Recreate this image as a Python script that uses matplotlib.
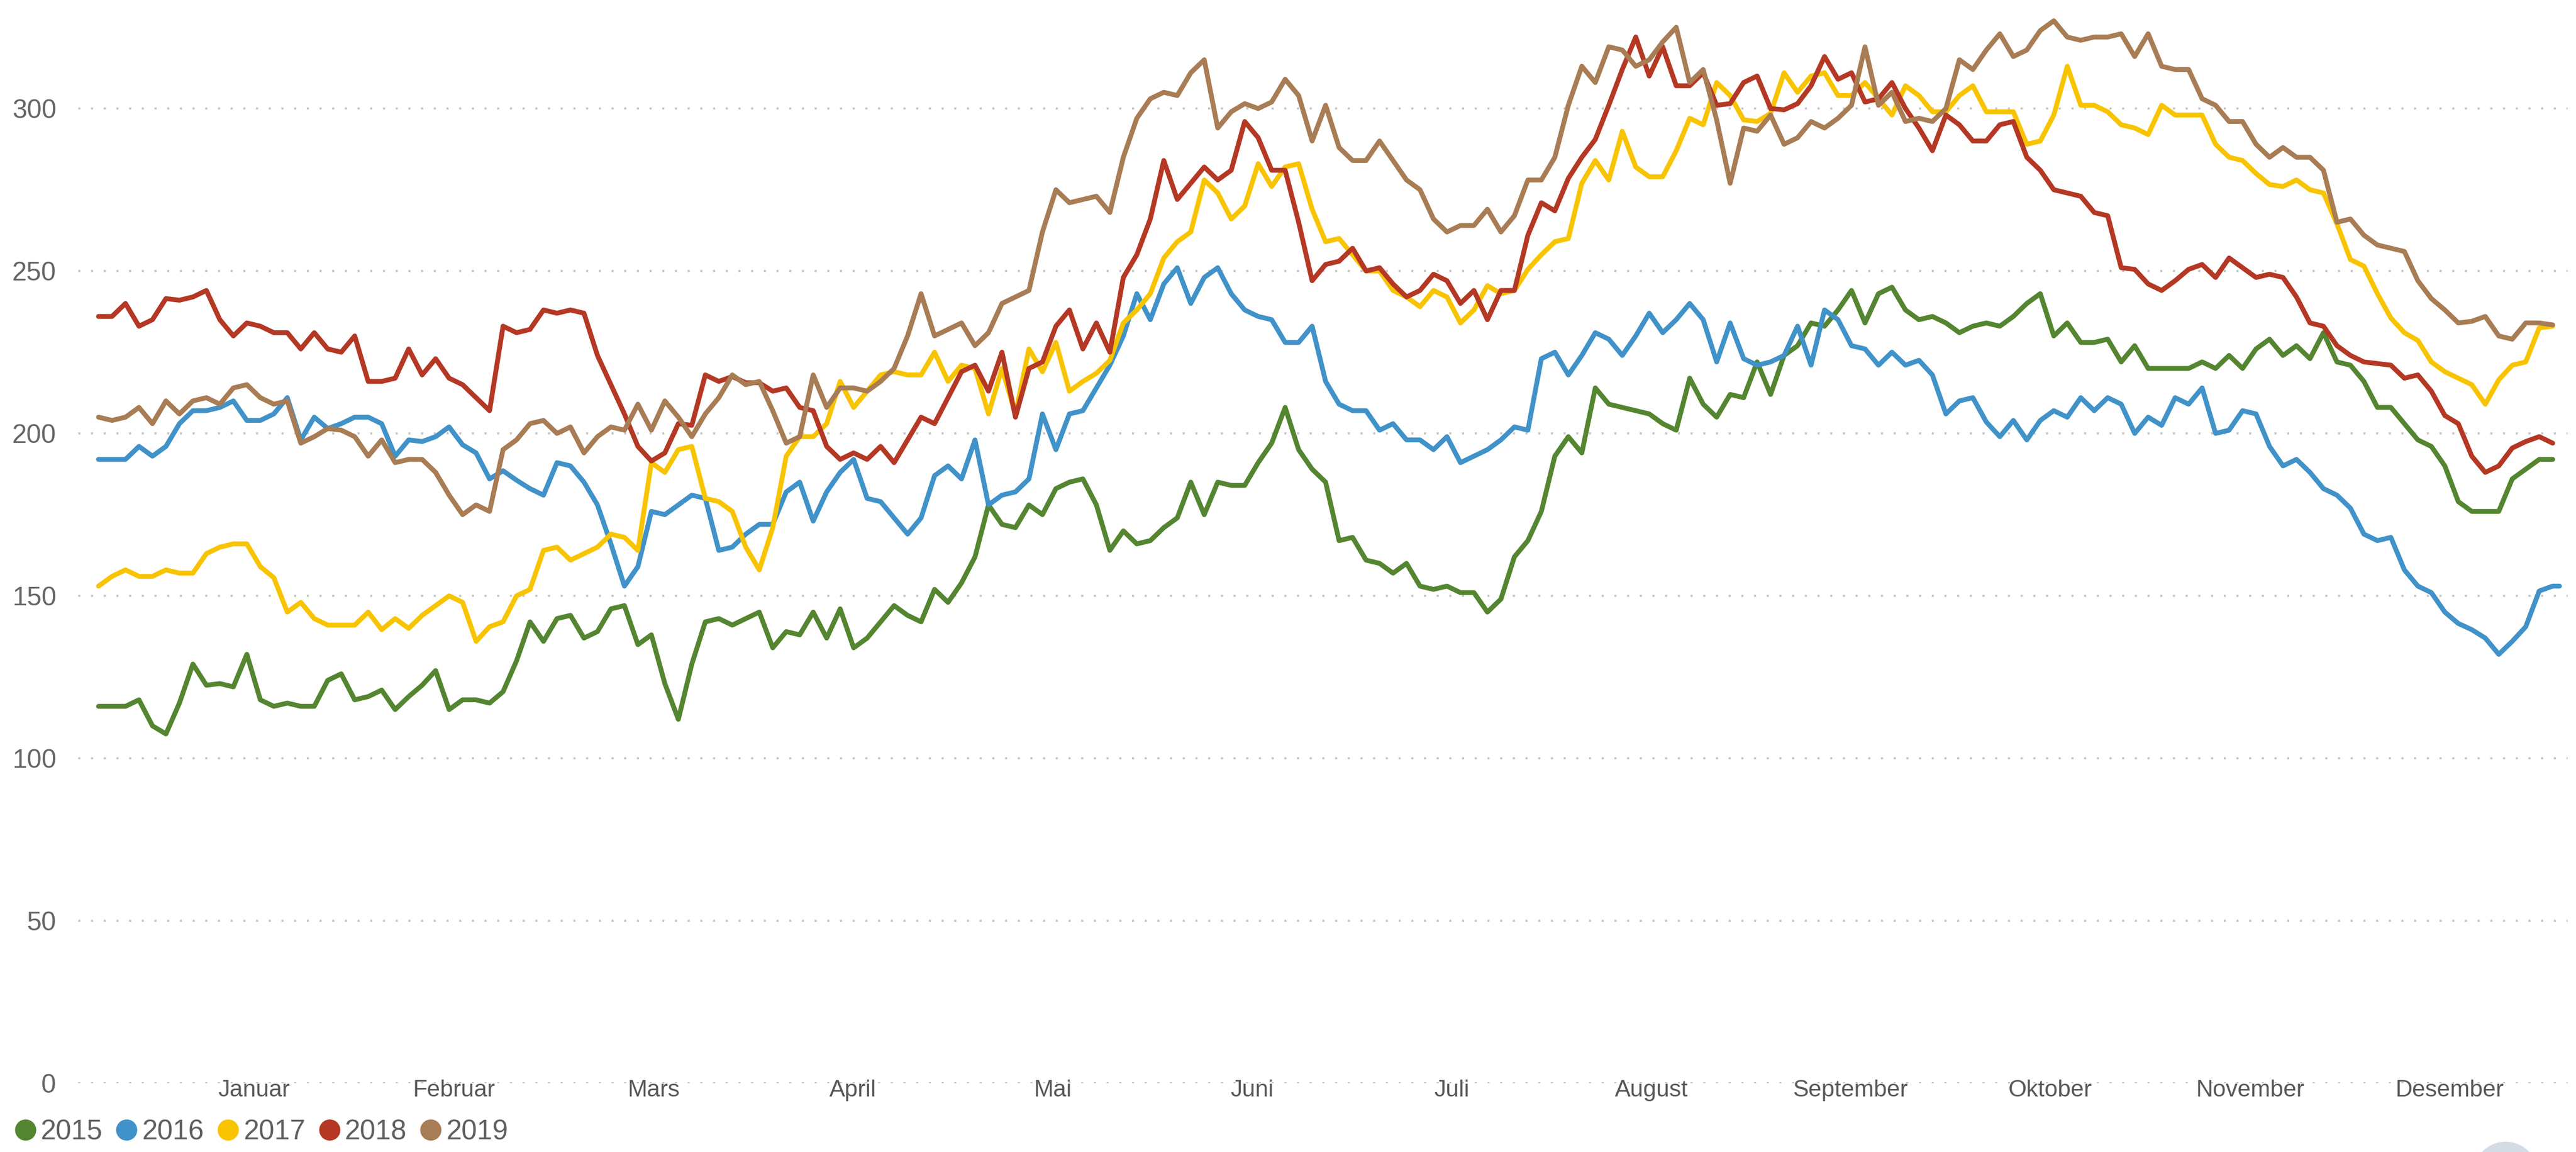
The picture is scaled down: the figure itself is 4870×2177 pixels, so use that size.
import numpy as np
import matplotlib
matplotlib.use('Agg')
import matplotlib.pyplot as plt
from matplotlib.lines import Line2D
from matplotlib.patches import Ellipse

plt.rcParams['font.family'] = ['Liberation Sans', 'DejaVu Sans']

# one value every second day of the year, from 1 January
vals_2015 = [116, 116, 116, 118, 110, 107.5, 117, 129, 122.5, 123, 122, 132, 118, 116, 117, 116, 116, 124, 126, 118,
             119, 121, 115, 119, 122.5, 127, 115, 118, 118, 117, 120.5, 130, 142, 136, 143, 144, 137, 139, 146, 147,
             135, 138, 123, 112, 129, 142, 143, 141, 143, 145, 134, 139, 138, 145, 137, 146, 134, 137, 142, 147,
             144, 142, 152, 148, 154, 162, 178, 172, 171, 178, 175, 183, 185, 186, 178, 164, 170, 166, 167, 171,
             174, 185, 175, 185, 184, 184, 191, 197, 208, 195, 189, 185, 167, 168, 161, 160, 157, 160, 153, 152,
             153, 151, 151, 145, 149, 162, 167, 176, 193, 199, 194, 214, 209, 208, 207, 206, 203, 201, 217, 209,
             205, 212, 211, 222, 212, 224, 227, 234, 233, 238, 244, 234, 243, 245, 238, 235, 236, 234, 231, 233,
             234, 233, 236, 240, 243, 230, 234, 228, 228, 229, 222, 227, 220, 220, 220, 220, 222, 220, 224, 220,
             226, 229, 224, 227, 223, 231, 222, 221, 216, 208, 208, 203, 198, 196, 190, 179, 176, 176, 176, 186,
             189, 192, 192]

vals_2016 = [192, 192, 192, 196, 193, 196, 203, 207, 207, 208, 210, 204, 204, 206, 211, 198, 205, 201.5, 203, 205,
             205, 203, 193, 198, 197.5, 199, 202, 196.5, 194, 186, 188.5, 185.6, 183, 181, 191, 190, 185, 178, 166, 153,
             159, 176, 175, 178, 181, 180, 164, 165, 169, 172, 172, 182, 185, 173, 182, 188, 192, 180, 179, 174,
             169, 174, 187, 190, 186, 198, 178, 181, 182, 186, 206, 195, 206, 207, 214, 221, 230, 243, 235, 246,
             251, 240, 248, 251, 243, 238, 236, 235, 228, 228, 233, 216, 209, 207, 207, 201, 203, 198, 198, 195,
             199, 191, 193, 195, 198, 202, 201, 223, 225, 218, 224, 231, 229, 224, 230, 237, 231, 235, 240, 235,
             222, 234, 223, 221, 222, 224, 233, 221, 238, 235, 227, 226, 221, 225, 221, 222.5, 218, 206, 210, 211,
             203.5, 199, 204, 198, 204, 207, 205, 211, 207, 211, 209, 200, 205, 202.5, 211, 209, 214, 200, 201, 207,
             206, 196, 190, 192, 188, 183, 181, 177, 169, 167, 168, 158, 153, 151, 145, 141.5, 139.6, 137, 132, 136,
             140.5, 151.5, 153, 153]

vals_2017 = [153, 156, 158, 156, 156, 158, 157, 157, 163, 165, 166, 166, 159, 155.6, 145, 148, 143, 141, 141, 141,
             145, 139.6, 143, 140, 144, 147, 150, 148, 136, 140.5, 142, 150, 152, 164, 165, 161, 163, 165, 169, 168,
             164, 191, 188, 195, 196, 180, 179, 176, 165, 158, 171, 193, 199, 199, 203, 216, 208, 213, 218, 219,
             218, 218, 225, 216, 221, 220, 206, 220, 206, 226, 219, 228, 213, 216, 218.5, 222.5, 234, 238, 243, 254,
             259, 262, 278, 274, 266, 270, 283, 276, 282, 283, 269, 259, 260, 255, 250, 250, 244, 242, 239, 244,
             242, 234, 238, 245.5, 243, 244, 250.5, 255, 259, 260, 277, 284, 278, 293, 282, 279, 279, 287, 297, 295,
             308, 304, 296.5, 296, 298.5, 311, 305, 310, 311, 304, 304, 308, 303, 298, 307, 304, 299, 299, 304, 307,
             299, 299, 299, 289, 290, 298, 313, 301, 301, 299, 295, 294, 292, 301, 298, 298, 298, 289, 285, 284,
             280, 276.6, 276, 278, 275, 274, 264.5, 253.5, 251.5, 243, 235.5, 231, 228.6, 222, 219, 217, 215, 209, 216.5, 221,
             222, 232.5, 233]

vals_2018 = [236, 236, 240, 233, 235, 241.5, 241, 242, 244, 235, 230, 234, 233, 231, 231, 226, 231, 226, 225, 230,
             216, 216, 217, 226, 218, 223, 217, 215, 211, 207, 233, 231, 232, 238, 237, 238, 237, 224, 215, 206,
             196, 191.5, 194, 203, 202.5, 218, 216, 217.5, 215.6, 215.6, 213, 214, 208, 207, 196, 192, 194, 192, 196, 191,
             198, 205, 203, 211, 219, 221, 213, 225, 205, 220, 222, 233, 238, 226, 234, 225, 248, 255, 266, 284,
             272, 277, 282, 278, 281, 296, 291, 281, 281, 265, 247, 252, 253, 257, 250, 251, 246, 242, 244, 249,
             247, 240, 244, 235, 244, 244, 261, 271, 268.5, 278.5, 285, 290.5, 301, 312, 322, 310, 319, 307, 307, 311,
             301, 301.5, 308, 310, 300, 299.6, 301.5, 307, 316, 309, 311, 302, 303, 308, 300, 294, 287, 298, 295, 290,
             290, 295, 296, 285, 281, 275, 274, 273, 268, 267, 251, 250.5, 246, 244, 247, 250.5, 252, 248, 254, 251,
             248, 249, 248, 242, 234, 233, 227, 224, 222, 221.5, 221, 217, 218, 213, 205.5, 203, 193, 188, 190, 195.5,
             197.5, 199, 197]

vals_2019 = [205, 204, 205, 208, 203, 210, 206, 210, 211, 209, 214, 215, 211, 209, 210, 197, 199, 201.5, 201, 199,
             193, 198, 191, 192, 192, 188, 181, 175, 178, 176, 195, 198, 203, 204, 200, 202, 194, 199, 202, 201,
             209, 201, 210, 205, 199, 206, 211, 218, 215, 216, 207, 197, 199, 218, 208, 214, 214, 213, 216, 220,
             230, 243, 230, 232, 234, 227, 231, 240, 242, 244, 262, 275, 271, 272, 273, 268, 285, 297, 303, 305,
             304, 311, 315, 294, 299, 301.5, 300, 302, 309, 304, 290, 301, 288, 284, 284, 290, 284, 278, 275, 266,
             262, 264, 264, 269, 262, 267, 278, 278, 285, 301, 313, 308, 319, 318, 313, 315, 320.5, 325, 308, 312,
             296.5, 277, 294, 293, 298, 289, 291, 296, 294, 297, 301, 319, 301, 305, 296, 297, 296, 300, 315, 312,
             318, 323, 316, 318, 324, 327, 322, 321, 322, 322, 323, 316, 323, 313, 312, 312, 303, 301, 296, 296,
             289, 285, 288, 285, 285, 281, 265, 266, 261, 258, 257, 256, 247, 241.5, 238, 234, 234.5, 236, 230, 229,
             234, 234, 233.4]

years = ['2015', '2016', '2017', '2018', '2019']
days_in_year = [365, 366, 365, 365, 365]
series = [vals_2015, vals_2016, vals_2017, vals_2018, vals_2019]
colors = ['#548530', '#4092c8', '#f8c400', '#b43824', '#a87c54']
months = ['Januar', 'Februar', 'Mars', 'April', 'Mai', 'Juni', 'Juli',
          'August', 'September', 'Oktober', 'November', 'Desember']

W, H = 4870, 2177
fig = plt.figure(figsize=(W / 200, H / 200), dpi=200)
ax = fig.add_axes([148 / W, 130 / H, (4854 - 148) / W, 2047 / H])

for vals, n_days, col in zip(series, days_in_year, colors):
    x = np.minimum(np.arange(len(vals)) * 2, n_days - 1)
    ax.plot(x, vals, color=col, lw=3.3, solid_joinstyle='round', solid_capstyle='round')

ax.set_xlim(-3, 366.2)
ax.set_ylim(0, 333.4)
ax.set_yticks(range(0, 301, 50))
ax.set_xticks([])
ax.tick_params(axis='y', length=0, pad=15, labelsize=18, labelcolor='#666666')
ax.yaxis.grid(True, linestyle=(0, (1, 5)), linewidth=1.44, color='#c8c8c8')
ax.set_axisbelow(True)
for s in ax.spines.values():
    s.set_visible(False)

# month names sit level with the zero line
for k, m in enumerate(months):
    ax.text(23.1 + 29.6 * k, -4.1, m, ha='center', va='baseline',
            fontsize=16, color='#585858')

handles = [Line2D([], [], ls='none', marker='o', ms=14.4, mfc=c, mec=c, mew=0) for c in colors]
leg = fig.legend(handles, years, loc='center left', bbox_to_anchor=(26.7 / W, 38 / H),
                 ncol=5, frameon=False, fontsize=19, handlelength=0.8, handletextpad=0.15,
                 columnspacing=0.46, borderpad=0, borderaxespad=0)
for t in leg.get_texts():
    t.set_color('#5f5f5f')

# round button peeking in at the bottom right
fig.add_artist(Ellipse((4737 / W, -42 / H), 120 / W, 120 / H, transform=fig.transFigure,
                       color='#d3dbe4', clip_on=False))

fig.savefig('out.png', dpi=200)
